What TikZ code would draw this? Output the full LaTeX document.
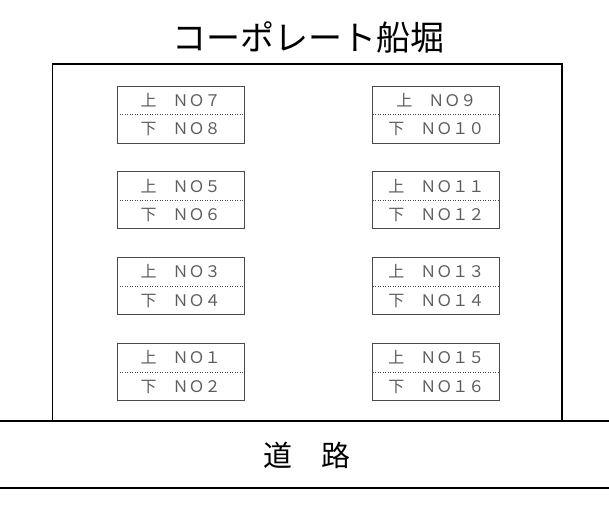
\documentclass[tikz,border=0pt]{standalone}
\usepackage{fontspec}
\setmainfont{Noto Sans CJK JP}
\usetikzlibrary{positioning}

\definecolor{boxgray}{HTML}{4A4A4A}
\definecolor{textgray}{HTML}{5C5C5C}

\begin{document}
\begin{tikzpicture}[
    x=1pt,
    y=-1pt,
    node distance=28pt and 128pt,
    wall/.style={line width=1.4pt},
    slot/.style={draw=boxgray, line width=0.8pt, text=textgray,
        minimum width=127pt, minimum height=57pt, inner sep=0pt,
        align=center, font=\fontsize{16}{28.5}\selectfont,
        path picture={\draw[boxgray, dotted, line width=0.5pt]
            (path picture bounding box.west) -- (path picture bounding box.east);}},
]

    \useasboundingbox (0,0) rectangle (609,510);

    % title
    \node[font=\fontsize{34}{34}\selectfont] (title) at (308,37) {コーポレート船堀};

    % building and road
    \coordinate (bldSW) at (52.5,421);
    \coordinate (bldNE) at (562,64);
    \coordinate (roadNW) at (0,421);
    \coordinate (roadNE) at (609,421);
    \coordinate (roadSW) at (0,488);
    \coordinate (roadSE) at (609,488);

    \draw[wall] (bldSW) |- (bldNE) -- (bldNE |- bldSW);
    \draw[wall] (roadNW) -- (roadNE);
    \draw[wall] (roadSW) -- (roadSE);

    \node[font=\fontsize{29}{29}\selectfont] (road) at (307,455) {道　路};

    % left column
    \node[slot]               (p7)  at (180.5,114.5) {上　ＮＯ７\\下　ＮＯ８};
    \node[slot, below=of p7]  (p5)  {上　ＮＯ５\\下　ＮＯ６};
    \node[slot, below=of p5]  (p3)  {上　ＮＯ３\\下　ＮＯ４};
    \node[slot, below=of p3]  (p1)  {上　ＮＯ１\\下　ＮＯ２};

    % right column
    \node[slot, right=of p7]  (p9)  {上　ＮＯ９\\下　ＮＯ１０};
    \node[slot, right=of p5]  (p11) {上　ＮＯ１１\\下　ＮＯ１２};
    \node[slot, right=of p3]  (p13) {上　ＮＯ１３\\下　ＮＯ１４};
    \node[slot, right=of p1]  (p15) {上　ＮＯ１５\\下　ＮＯ１６};
\end{tikzpicture}
\end{document}
